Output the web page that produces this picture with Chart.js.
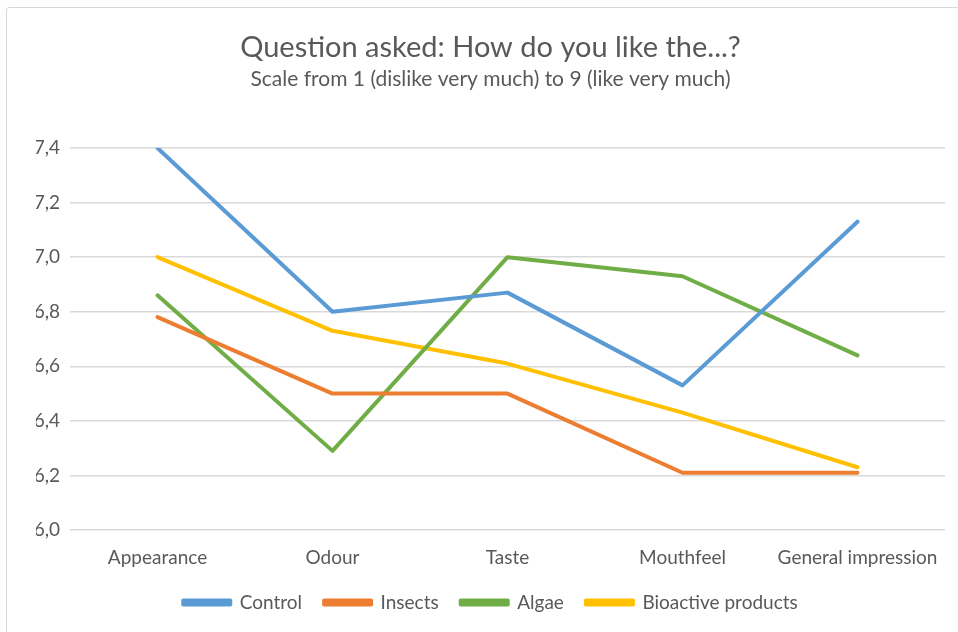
<!DOCTYPE html>
<html>
<head>
<meta charset="utf-8">
<script src="https://cdn.jsdelivr.net/npm/chart.js@4.4.1/dist/chart.umd.min.js"></script>
<style>
  html, body { margin: 0; padding: 0; background: #fff; overflow: hidden; }
  #frame {
    position: absolute; left: 6px; top: 7px;
    width: 970px; height: 640px;
    border: 1px solid #d9d9d9; border-radius: 3px;
    background: #fff;
  }
  #chart { display: block; }
</style>
</head>
<body>
<div id="frame">
  <canvas id="chart" width="970" height="640"></canvas>
</div>
<script>
const categories = ["Appearance", "Odour", "Taste", "Mouthfeel", "General impression"];
const control = [7.40, 6.80, 6.87, 6.53, 7.13];
const insects = [6.78, 6.50, 6.50, 6.21, 6.21];
const algae = [6.86, 6.29, 7.00, 6.93, 6.64];
const bioactive = [7.00, 6.73, 6.61, 6.43, 6.23];
const yMin = 6.0;
const yMax = 7.4;
const yStep = 0.2;

Chart.defaults.font.family = "Lato, 'Open Sans', sans-serif";
Chart.defaults.color = "#595959";

function series(label, values, color) {
  return {
    label: label,
    data: values,
    borderColor: color,
    backgroundColor: color,
    borderWidth: 4,
    pointRadius: 0,
    tension: 0,
    borderCapStyle: "round",
    borderJoinStyle: "round"
  };
}

const ctx = document.getElementById("chart").getContext("2d");

new Chart(ctx, {
  type: "line",
  data: {
    labels: categories,
    datasets: [
      series("Control", control, "#5b9bd5"),
      series("Insects", insects, "#ed7d31"),
      series("Algae", algae, "#70ad47"),
      series("Bioactive products", bioactive, "#ffc000")
    ]
  },
  options: {
    responsive: false,
    animation: false,
    layout: { padding: { left: 29, right: 32, top: 22, bottom: 26 } },
    scales: {
      x: {
        offset: true,
        grid: { display: false, drawTicks: false },
        border: { display: false },
        ticks: { font: { size: 19 }, padding: 16, color: "#595959", maxRotation: 0 },
        // keep the legend close under the category labels
        afterFit: scale => { scale.height = 41; }
      },
      y: {
        min: yMin,
        max: yMax,
        grid: { color: "#d9d9d9", lineWidth: 1.5, drawTicks: false },
        border: { display: false },
        ticks: {
          stepSize: yStep,
          font: { size: 19 },
          padding: 10,
          color: "#595959",
          callback: v => v.toFixed(1).replace(".", ",")
        },
        afterFit: scale => { scale.width = 34; }
      }
    },
    plugins: {
      title: {
        display: true,
        text: "Question asked: How do you like the...?",
        font: { size: 29, weight: "normal" },
        color: "#595959",
        padding: { top: 0, bottom: 2 }
      },
      subtitle: {
        display: true,
        text: "Scale from 1 (dislike very much) to 9 (like very much)",
        font: { size: 21 },
        color: "#595959",
        padding: { top: 0, bottom: 56 }
      },
      legend: {
        position: "bottom",
        labels: {
          boxWidth: 47,
          boxHeight: 4,
          padding: 22,
          font: { size: 19 },
          color: "#595959"
        }
      },
      tooltip: { enabled: false }
    }
  }
});
</script>
</body>
</html>
